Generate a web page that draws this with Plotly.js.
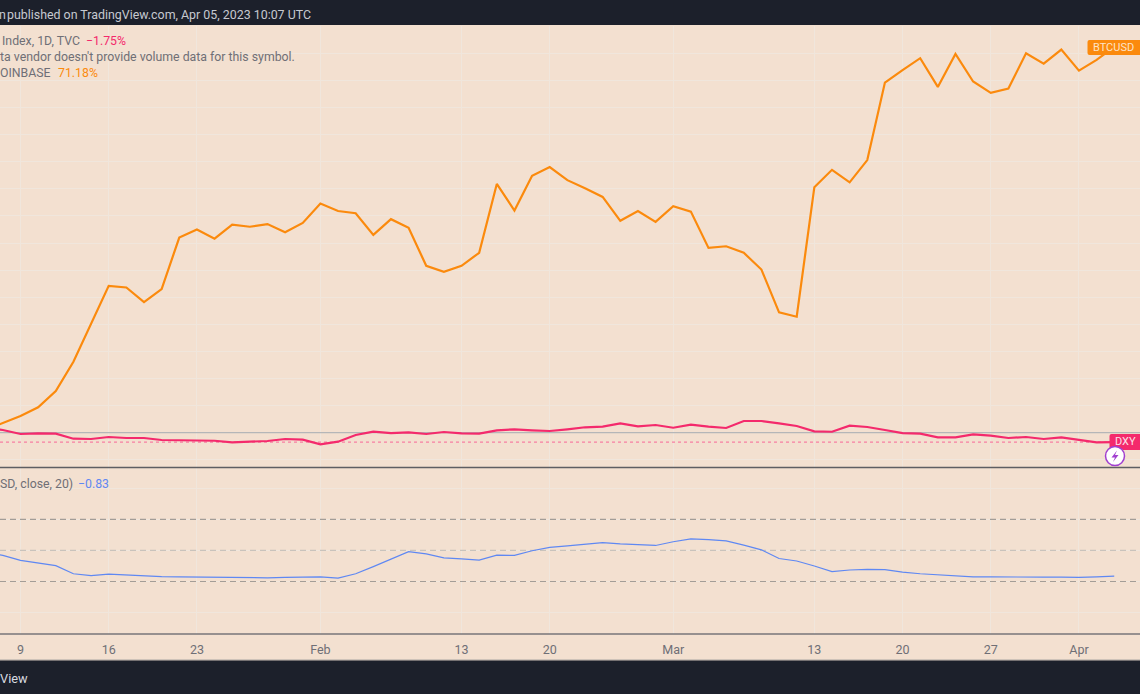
<!DOCTYPE html>
<html><head><meta charset="utf-8">
<script src="https://cdn.plot.ly/plotly-2.35.2.min.js"></script>
<style>html,body{margin:0;padding:0;background:#f3e0d0;overflow:hidden}#c{width:1140px;height:694px}</style>
</head><body><div id="c"></div>
<script>
const dates = ["01-05","01-06",
"01-09","01-10","01-11","01-12","01-13","01-16","01-17","01-18","01-19","01-20",
"01-23","01-24","01-25","01-26","01-27","01-30","01-31","02-01","02-02","02-03",
"02-06","02-07","02-08","02-09","02-10","02-13","02-14","02-15","02-16","02-17",
"02-20","02-21","02-22","02-23","02-24","02-27","02-28","03-01","03-02","03-03",
"03-06","03-07","03-08","03-09","03-10","03-13","03-14","03-15","03-16","03-17",
"03-20","03-21","03-22","03-23","03-24","03-27","03-28","03-29","03-30","03-31",
"04-03","04-04","04-05"];
const btc = [0.5,1.8,
3.1,4.7,7.7,13.1,20.2,27.1,26.8,24.1,26.5,36.0,
37.5,35.8,38.4,38.0,38.5,37.0,38.7,42.3,40.9,40.5,
36.5,39.4,37.8,30.8,29.7,30.8,33.2,45.9,41.0,47.4,
49.0,46.6,45.1,43.5,39.1,40.9,38.9,41.8,40.8,34.1,
34.4,33.2,30.1,22.2,21.4,45.3,48.5,46.2,50.3,64.6,
66.9,69.1,63.8,69.9,64.8,62.7,63.5,70.0,68.1,70.7,
66.8,68.8,71.18];
const dxy = [1.0,0.5,
-0.24,-0.11,-0.18,-1.11,-1.16,-0.79,-0.98,-0.98,-1.35,-1.40,
-1.40,-1.48,-1.77,-1.59,-1.53,-1.16,-1.29,-2.14,-1.66,-0.42,
0.18,-0.06,0.07,-0.24,0.13,-0.11,-0.18,0.44,0.63,0.44,
0.31,0.63,1.0,1.11,1.73,1.18,1.42,0.92,1.48,1.11,
0.87,2.16,2.16,1.73,1.24,0.26,0.18,1.29,1.05,0.5,
-0.06,-0.18,-0.85,-0.85,-0.3,-0.55,-0.98,-0.79,-1.16,-0.85,
-1.35,-1.77,-1.75];
const corr = [-0.05,-0.16,
-0.32,-0.41,-0.49,-0.75,-0.81,-0.76,-0.79,-0.82,-0.84,-0.85,
-0.86,-0.86,-0.87,-0.87,-0.88,-0.87,-0.86,-0.85,-0.89,-0.75,
-0.52,-0.28,-0.04,-0.11,-0.24,-0.27,-0.31,-0.15,-0.16,-0.01,
0.10,0.15,0.21,0.25,0.21,0.18,0.16,0.28,0.37,0.35,
0.31,0.17,0.02,-0.26,-0.34,-0.50,-0.68,-0.63,-0.61,-0.62,
-0.70,-0.75,-0.78,-0.83,-0.85,-0.85,-0.86,-0.86,-0.86,-0.86,
-0.87,-0.85,-0.83];
const tickDates = ["01-09","01-16","01-23","02-01","02-13","02-20","03-01","03-13","03-20","03-27","04-03"];
const tickLabels = ["9","16","23","Feb","13","20","Mar","13","20","27","Apr"];

const W=1140,H=694, FONT='Roboto, "Liberation Sans", sans-serif';
const px=x=>x/W, py=y=>1-y/H;
const GREY='#6f6f76', BG='#f3e0d0', GRID='#f0e6dc', DARK='#1c202b';
const ORANGE='#fb8a0d', PINK='#f42a6c', BLUE='#5f88f3';
const XMIN=0.838, XMAX=65.46;

function note(text,x,y,anchor,color,size,extra){
  return Object.assign({text:text,xref:'paper',yref:'paper',x:px(x),y:py(y),xanchor:anchor,yanchor:'middle',
    showarrow:false,font:{family:FONT,size:size||12.3,color:color||GREY},borderpad:0,borderwidth:0},extra||{});
}
function rect(x0,y0,x1,y1,fill){
  return {type:'rect',xref:'paper',yref:'paper',x0:px(x0),x1:px(x1),y0:py(y0),y1:py(y1),fillcolor:fill,line:{width:0},layer:'above'};
}
function roundBox(x0,y0,x1,y1,r,fill){
  const P=(x,y)=>px(x)+','+py(y);
  const path='M'+P(x0+r,y0)+' L'+P(x1,y0)+' L'+P(x1,y1)+' L'+P(x0+r,y1)+' Q'+P(x0,y1)+' '+P(x0,y1-r)+' L'+P(x0,y0+r)+' Q'+P(x0,y0)+' '+P(x0+r,y0)+' Z';
  return {type:'path',xref:'paper',yref:'paper',path:path,fillcolor:fill,line:{width:0},layer:'above'};
}
function hline(y,color,width,dash,ax,x1){
  return {type:'line',xref:'x',yref:ax,x0:XMIN,x1:x1||XMAX,y0:y,y1:y,line:{color:color,width:width,dash:dash||'solid'},layer:'between'};
}
function pline(y,color,width){
  return {type:'line',xref:'paper',yref:'paper',x0:0,x1:1,y0:py(y),y1:py(y),line:{color:color,width:width},layer:'above'};
}
const bolt=[[1117,450.5],[1111.5,457.5],[1115,457.5],[1113,462],[1118.5,455],[1115,455]];
const boltPath='M'+bolt.map(p=>px(p[0])+','+py(p[1])).join(' L')+' Z';

const traces=[
 {x:dates,y:btc,type:'scatter',mode:'lines',line:{color:ORANGE,width:2.2},xaxis:'x',yaxis:'y',hoverinfo:'skip'},
 {x:dates,y:dxy,type:'scatter',mode:'lines',line:{color:PINK,width:2.2},xaxis:'x',yaxis:'y',hoverinfo:'skip'},
 {x:dates,y:corr,type:'scatter',mode:'lines',line:{color:BLUE,width:1.2},xaxis:'x',yaxis:'y2',hoverinfo:'skip'}
];
const layout={
 width:W,height:H,margin:{l:0,r:0,t:0,b:0},paper_bgcolor:BG,plot_bgcolor:'rgba(0,0,0,0)',showlegend:false,
 font:{family:FONT},
 xaxis:{type:'category',categoryorder:'array',categoryarray:dates,domain:[0,1],anchor:'y2',range:[XMIN,XMAX],
   tickmode:'array',tickvals:tickDates,ticktext:tickLabels,showgrid:true,gridcolor:GRID,gridwidth:1,
   zeroline:false,showline:false,ticks:'outside',ticklen:4,tickcolor:'rgba(0,0,0,0)',
   tickfont:{family:FONT,size:12.5,color:GREY}},
 yaxis:{domain:[py(467.5),py(26)],range:[-6.42,75.04],tickmode:'linear',tick0:0,dtick:5,showgrid:true,gridcolor:GRID,
   zeroline:false,showticklabels:false,ticks:''},
 yaxis2:{domain:[py(634),py(467.5)],range:[-2.69,2.67],tickmode:'linear',tick0:0,dtick:1,showgrid:true,gridcolor:GRID,
   zeroline:false,showticklabels:false,ticks:''},
 shapes:[
   hline(0,'#b5b6b8',1.2,'solid','y'),
   hline(-1.75,'#f77fa2',1.2,'dot','y',63.88),
   hline(1,'#a39d97',1.2,'6px,4px','y2'),
   hline(0,'#c9c3bc',1.2,'6px,4px','y2'),
   hline(-1,'#a39d97',1.2,'6px,4px','y2'),
   pline(467.5,'#5e5e62',1.5),
   pline(634,'#77767a',1.5),
   pline(660,'#a9a6a3',1),
   rect(0,0,1140,25,DARK),
   rect(0,660.5,1140,694,DARK),
   roundBox(1087.5,40,1140,55,2,ORANGE),
   roundBox(1109.5,434,1140,450,2,PINK),
   {type:'circle',xref:'paper',yref:'paper',x0:px(1105.5),x1:px(1124.5),y0:py(465.5),y1:py(446.5),fillcolor:'#ffffff',line:{color:'#a13fd0',width:1.5},layer:'above'},
   {type:'path',xref:'paper',yref:'paper',path:boltPath,fillcolor:'#a13fd0',line:{width:0},layer:'above'}
 ],
 annotations:[
   note('n',-1,14.5,'left','#c6c9d0',12.4),
   note('published on TradingView.com, Apr 05, 2023 10:07 UTC',7,14.5,'left','#c6c9d0',12.4),
   note('View',0,678,'left','#d9dbe0',12.8),
   note('Index, 1D, TVC',2,41,'left'),
   note('−1.75%',86,41,'left',PINK),
   note("ta vendor doesn't provide volume data for this symbol.",0,57,'left'),
   note('COINBASE',51,73,'right'),
   note('71.18%',58,73,'left',ORANGE),
   note('SD, close, 20)',0,484,'left'),
   note('−0.83',78,484,'left',BLUE),
   note('BTCUSD',1113.5,47.5,'center','#fde3c8',11),
   note('DXY',1125,442,'center','#fde0e8',11)
 ]
};
Plotly.newPlot('c',traces,layout,{staticPlot:true,displayModeBar:false});
</script></body></html>
